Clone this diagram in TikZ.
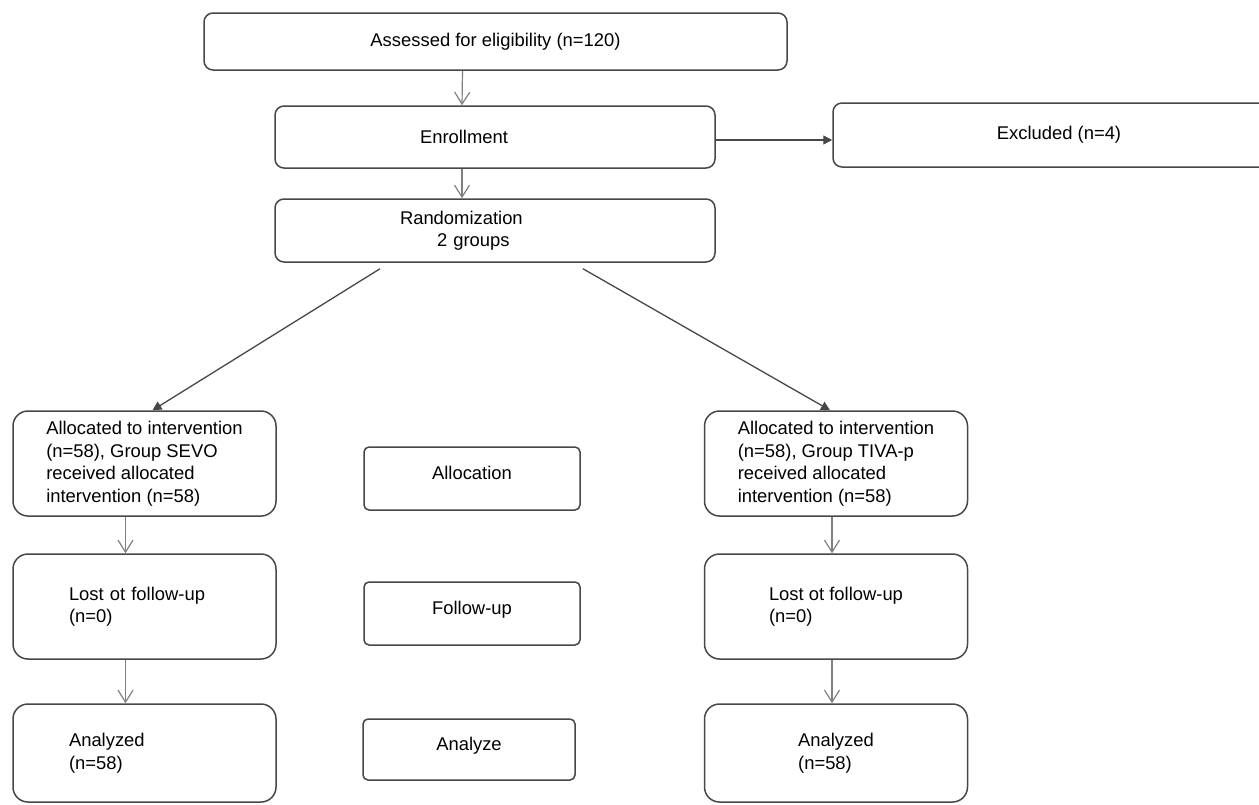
\documentclass[tikz,border=0pt]{standalone}
\usepackage{fontspec}
\setmainfont{Liberation Sans}
\usetikzlibrary{arrows.meta}

\tikzset{
  cbox/.style={draw=black!72, line width=1.5pt, inner sep=0pt,
    font=\fontsize{18.4}{22.5}\selectfont},
  topbox/.style={cbox, rounded corners=9pt},
  armbox/.style={cbox, rounded corners=15pt, minimum width=263pt,
    minimum height=105pt, align=left},
  phasebox/.style={cbox, rounded corners=5pt, minimum height=63pt,
    text depth=12pt},
  grayarrow/.style={draw=black!50, line width=1.2pt,
    -{Straight Barb[length=12pt,width=15pt]}},
  darkarrow/.style={draw=black!72, line width=1.3pt,
    -{Triangle[length=9pt,width=9pt]}}
}

\begin{document}
\begin{tikzpicture}[x=1pt,y=-1pt]
\useasboundingbox (0,0) rectangle (1259,804);

% Screening
\node (assess) at (495.5,41.5) [topbox, minimum width=583pt, minimum height=57pt] {Assessed for eligibility (n=120)};
\node (enroll) at (495,137) [topbox, minimum width=440pt, minimum height=62pt, text width=150pt, align=left] {Enrollment};
\node (excluded) at (1059,135) [topbox, minimum width=452pt, minimum height=64pt] {Excluded (n=4)};
\node (random) at (495,230.5) [topbox, minimum width=440pt, minimum height=63pt, text width=190pt, align=left] {Randomization\\\hspace*{37pt}2 groups};

\draw[grayarrow] ([xshift=-33pt]assess.south) -- ([xshift=-33pt]enroll.north);
\draw[grayarrow] ([xshift=-33pt]enroll.south) -- ([xshift=-33pt]random.north);
\draw[darkarrow] ([yshift=-3pt]enroll.east) -- ([yshift=-3pt]enroll.east -| excluded.west);

% Groups
\node (lalloc) at (144.5,463.5) [armbox] {Allocated to intervention\\(n=58), Group SEVO\\received allocated\\intervention (n=58)};
\node (ralloc) at (836,463.5) [armbox] {Allocated to intervention\\(n=58), Group TIVA-p\\received allocated\\intervention (n=58)};
\draw[darkarrow] ([xshift=-115pt,yshift=-6pt]random.south) -- ([xshift=8pt]lalloc.north);
\draw[darkarrow] ([xshift=88pt,yshift=-6pt]random.south) -- ([xshift=-6pt]ralloc.north);

\node (llost) at (144.5,606.5) [armbox, text width=151pt] {Lost ot follow-up\\(n=0)};
\node (rlost) at (836,606.5) [armbox] {Lost ot follow-up\\(n=0)};
\node (lanal) at (144.5,753) [armbox, minimum height=98pt, text width=151pt] {Analyzed\\(n=58)};
\node (ranal) at (836,753) [armbox, minimum height=98pt] {Analyzed\\(n=58)};

\draw[grayarrow] ([xshift=-19pt]lalloc.south) -- ([xshift=-19pt]llost.north);
\draw[grayarrow] ([xshift=-19pt]llost.south) -- ([xshift=-19pt]lanal.north);
\draw[grayarrow] ([xshift=-4pt]ralloc.south) -- ([xshift=-4pt]rlost.north);
\draw[grayarrow] ([xshift=-4pt]rlost.south) -- ([xshift=-4pt]ranal.north);

% Phases
\node (palloc) at (472,478.5) [phasebox, minimum width=216pt] {Allocation};
\node (pfollow) at (472,613.5) [phasebox, minimum width=216pt] {Follow-up};
\node (panal) at (469,749.5) [phasebox, minimum width=212pt, minimum height=61pt] {Analyze};
\end{tikzpicture}
\end{document}
